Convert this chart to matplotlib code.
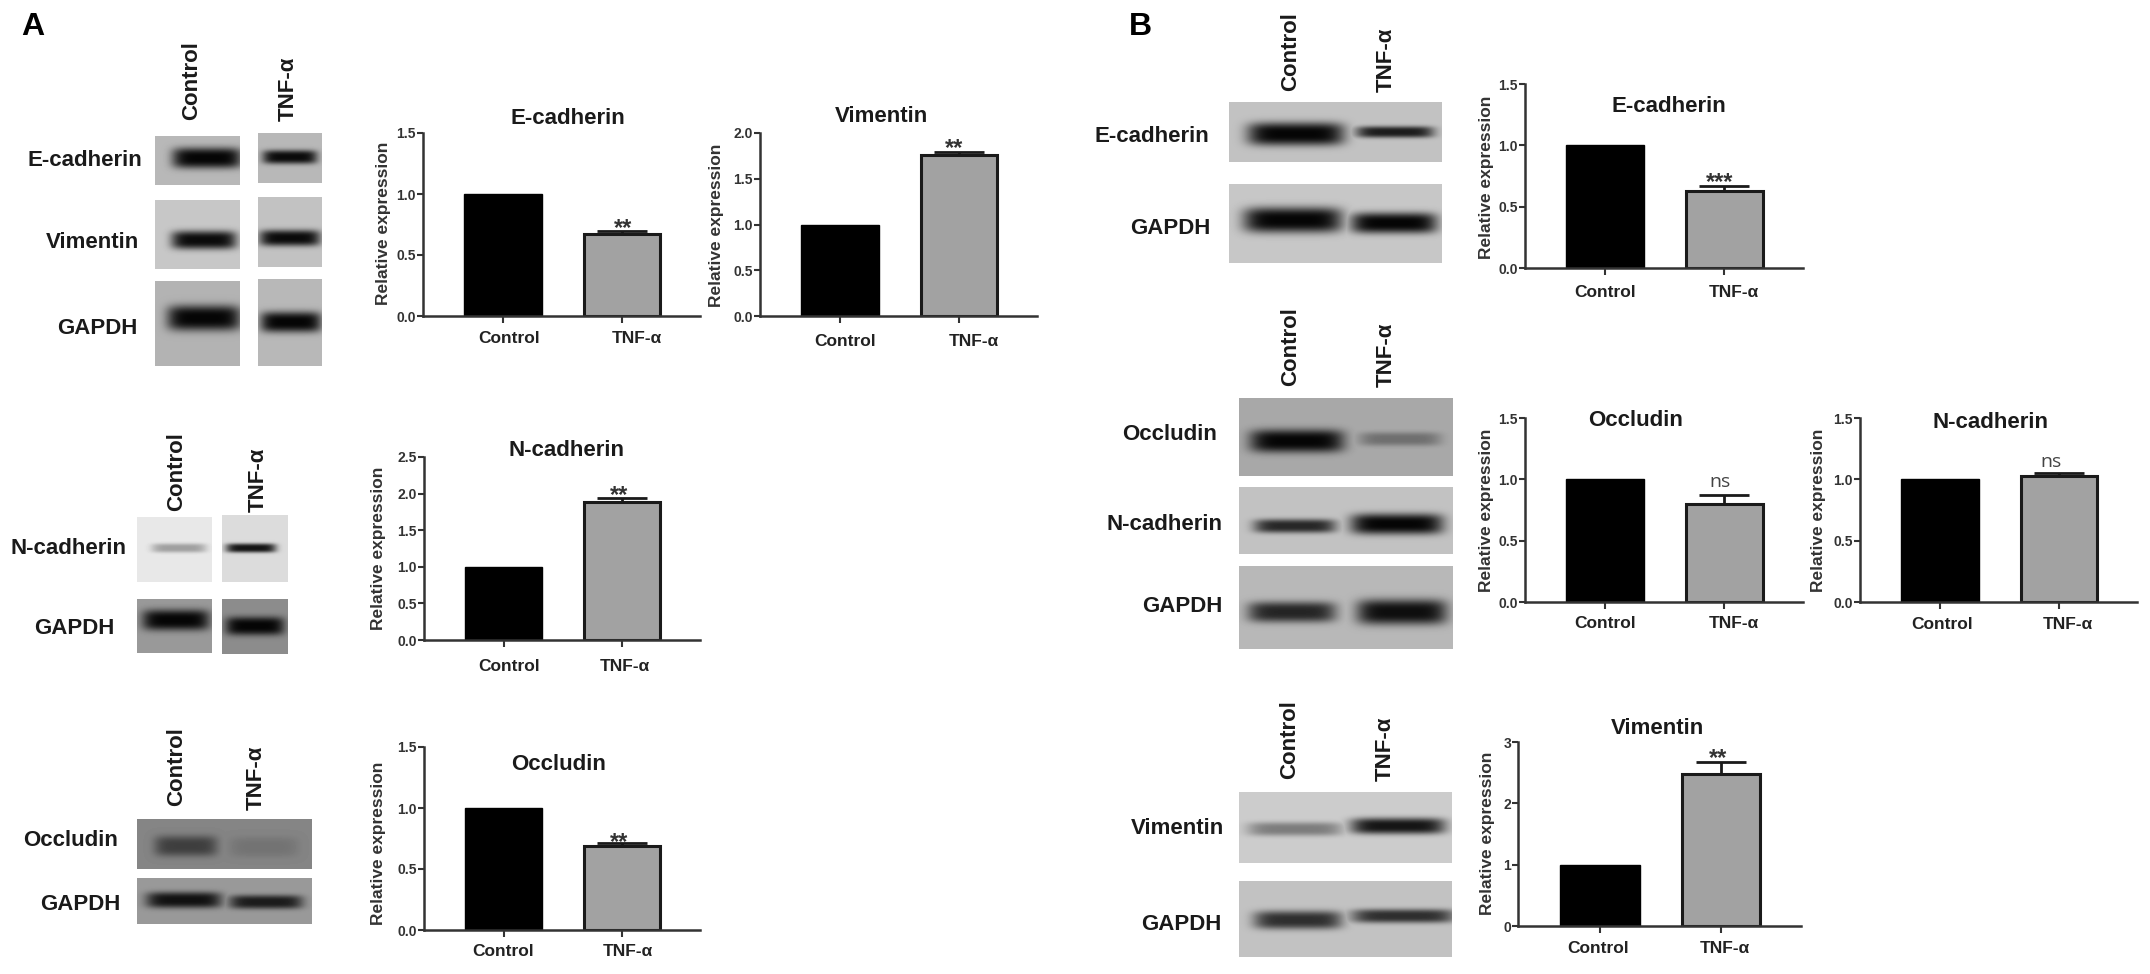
import numpy as np
from matplotlib import pyplot as plt
from matplotlib.transforms import ScaledTranslation

plt.rcParams['font.family'] = ['Liberation Sans', 'DejaVu Sans']
plt.rcParams['font.weight'] = 'bold'
plt.rcParams['axes.labelweight'] = 'bold'

W, H = 2150, 974
DPI = 100

# Bar chart values, panel A then panel B.
titles = ['E-cadherin', 'Vimentin', 'N-cadherin', 'Occludin',
          'E-cadherin', 'Occludin', 'N-cadherin', 'Vimentin']
groups = ['Control', 'TNF-α']
control_values = [1.0, 1.0, 1.0, 1.0, 1.0, 1.0, 1.0, 1.0]
tnf_values = [0.67, 1.76, 1.89, 0.69, 0.63, 0.80, 1.03, 2.48]
tnf_errors = [0.03, 0.03, 0.05, 0.02, 0.04, 0.07, 0.02, 0.20]
y_max = [1.5, 2.0, 2.5, 1.5, 1.5, 1.5, 1.5, 3.0]
y_ticks = [[0.0, 0.5, 1.0, 1.5], [0.0, 0.5, 1.0, 1.5, 2.0],
           [0.0, 0.5, 1.0, 1.5, 2.0, 2.5], [0.0, 0.5, 1.0, 1.5],
           [0.0, 0.5, 1.0, 1.5], [0.0, 0.5, 1.0, 1.5],
           [0.0, 0.5, 1.0, 1.5], [0, 1, 2, 3]]
y_fmt = ['%.1f'] * 7 + ['%d']
marks = ['**', '**', '**', '**', '***', 'ns', 'ns', '**']

# Layout of each chart, in pixels of the page.
boxes = [(423, 700, 133, 316), (760, 1037, 133, 316), (424, 700, 457, 640),
         (424, 700, 747, 930), (1525, 1803, 84, 268), (1525, 1803, 418, 602),
         (1860, 2137, 418, 602), (1518, 1801, 742, 926)]
title_pos = [(568, 118), (881, 116), (567, 451), (559, 765),
             (1669, 107), (1636, 421), (1991, 422), (1657, 728)]
mark_pos = [(623, 225), (954, 145), (619, 492), (619, 839),
            (1720, 179), (1720, 482), (2051, 462), (1718, 755)]
ylabel_pos = [(391, 223), (724, 225), (386, 548), (386, 843),
              (1494, 177), (1494, 510), (1826, 510), (1495, 833)]
tick_label_y = [338, 341, 666, 951, 292, 623, 624, 948]
tick_label_dx = [(6, 15), (5, 15), (5, 3), (-1, 6),
                 (0, 9), (0, 9), (2, 9), (-2, 4)]

# Western blot strips: left, right, top, bottom, background grey.
blots = [
    (155, 240, 136, 185, 0.72), (258, 322, 133, 183, 0.72),
    (155, 240, 200, 269, 0.78), (258, 322, 197, 267, 0.76),
    (155, 240, 281, 366, 0.70), (258, 322, 279, 366, 0.72),
    (137, 212, 517, 582, 0.91), (222, 288, 515, 582, 0.86),
    (137, 212, 599, 653, 0.60), (222, 288, 599, 654, 0.55),
    (137, 312, 819, 869, 0.52), (137, 312, 878, 924, 0.60),
    (1229, 1442, 102, 162, 0.76), (1229, 1442, 184, 263, 0.78),
    (1239, 1453, 398, 476, 0.66), (1239, 1453, 487, 554, 0.76),
    (1239, 1453, 566, 649, 0.72), (1239, 1452, 792, 863, 0.80),
    (1239, 1452, 881, 957, 0.76),
]
# Bands on each strip: centre x, centre y, half width, half height, strength.
bands = [
    [(207, 158, 33, 9, 1.0)], [(290, 157, 26, 6, 0.97)],
    [(204, 240, 31, 8, 0.97)], [(290, 238, 29, 7, 0.97)],
    [(204, 318, 35, 11, 1.0)], [(291, 322, 29, 9, 1.0)],
    [(179, 548, 26, 4, 0.32)], [(251, 548, 24, 4, 0.93)],
    [(176, 620, 32, 9, 1.0)], [(255, 626, 28, 8, 1.0)],
    [(186, 846, 30, 9, 0.55), (264, 847, 33, 9, 0.14)],
    [(184, 900, 36, 7, 0.92), (266, 902, 35, 6, 0.85)],
    [(1296, 134, 46, 10, 1.0), (1395, 132, 37, 5, 0.88)],
    [(1293, 220, 47, 11, 1.0), (1394, 223, 41, 9, 1.0)],
    [(1297, 441, 45, 10, 1.0), (1400, 439, 39, 6, 0.35)],
    [(1295, 526, 39, 6, 0.82), (1397, 524, 44, 9, 1.0)],
    [(1292, 612, 42, 9, 0.82), (1402, 612, 43, 11, 0.95)],
    [(1295, 829, 45, 6, 0.40), (1398, 826, 45, 7, 0.92)],
    [(1298, 920, 42, 8, 0.78), (1403, 916, 49, 6, 0.78)],
]

# Labels next to the blots: text, centre x, centre y.
row_labels = [
    ('E-cadherin', 85, 161), ('Vimentin', 92, 243), ('GAPDH', 97, 329),
    ('N-cadherin', 69, 548), ('GAPDH', 74, 628),
    ('Occludin', 71, 841), ('GAPDH', 80, 904),
    ('E-cadherin', 1152, 137), ('GAPDH', 1170, 229),
    ('Occludin', 1170, 435), ('N-cadherin', 1165, 525), ('GAPDH', 1182, 607),
    ('Vimentin', 1177, 828), ('GAPDH', 1181, 925),
]
lane_labels = [
    ('Control', 192, 81), ('TNF-α', 288, 89),
    ('Control', 177, 472), ('TNF-α', 258, 480),
    ('Control', 177, 767), ('TNF-α', 256, 778),
    ('Control', 1291, 52), ('TNF-α', 1386, 60),
    ('Control', 1291, 347), ('TNF-α', 1386, 355),
    ('Control', 1290, 740), ('TNF-α', 1385, 749),
]
panel_labels = [('A', 33, 27), ('B', 1140, 27)]

fig = plt.figure(figsize=(W / DPI, H / DPI), dpi=DPI)

# Whole page axes for the blots and their labels.
page = fig.add_axes([0, 0, 1, 1])
for (x0, x1, y0, y1, bg), strip_bands in zip(blots, bands):
    xx, yy = np.meshgrid(np.arange(x0, x1) + 0.5, np.arange(y0, y1) + 0.5)
    cover = np.zeros_like(xx)
    for cx, cy, hw, hh, strength in strip_bands:
        shape = np.exp(-np.abs((xx - cx) / (hw * 1.05)) ** 6
                       - np.abs((yy - cy) / (hh * 1.15)) ** 3)
        cover = np.maximum(cover, strength * shape)
    img = bg * (1 - cover) + 0.02 * cover
    page.imshow(img, extent=(x0, x1, y1, y0), cmap='gray', vmin=0, vmax=1,
                aspect='auto', interpolation='bilinear')
page.set_xlim(0, W)
page.set_ylim(H, 0)
page.axis('off')

for text, x, y in row_labels:
    page.text(x, y, text, fontsize=16, ha='center', va='center', color='#1a1a1a')
for text, x, y in lane_labels:
    page.text(x, y, text, fontsize=16, rotation=90, ha='center', va='center',
              color='#1a1a1a')
for text, x, y in panel_labels:
    page.text(x, y, text, fontsize=23, ha='center', va='center', color='black')

# Bar charts.
for i, box in enumerate(boxes):
    x0, x1, y0, y1 = box
    ax = fig.add_axes([x0 / W, 1 - y1 / H, (x1 - x0) / W, (y1 - y0) / H])
    ax.patch.set_alpha(0)
    ax.bar(0, control_values[i], width=0.655, color='black', edgecolor='black')
    ax.bar(1, tnf_values[i], width=0.64, color='#a2a2a2', edgecolor='#1a1a1a',
           linewidth=2.2, yerr=[[0], [tnf_errors[i]]], ecolor='#1a1a1a',
           error_kw={'elinewidth': 2, 'capsize': 18, 'capthick': 2})
    ax.set_xlim(-0.675, 1.66)
    ax.set_ylim(0, y_max[i])
    ax.spines['top'].set_visible(False)
    ax.spines['right'].set_visible(False)
    ax.spines['left'].set_linewidth(1.8)
    ax.spines['bottom'].set_linewidth(1.8)
    ax.spines['left'].set_color('#333333')
    ax.spines['bottom'].set_color('#333333')

    ax.set_yticks(y_ticks[i], [y_fmt[i] % v for v in y_ticks[i]])
    ax.tick_params(axis='y', length=4, width=1.5, pad=1, labelsize=10,
                   color='#333333', labelcolor='#333333')
    ax.set_xticks([0, 1], groups)
    ax.tick_params(axis='x', length=5, width=1.5, labelsize=12.5,
                   pad=(tick_label_y[i] - y1 - 14) * 0.72,
                   color='#333333', labelcolor='#222222')
    for label, dx in zip(ax.get_xticklabels(), tick_label_dx[i]):
        label.set_transform(label.get_transform() +
                            ScaledTranslation(dx / DPI, 0, fig.dpi_scale_trans))

    lx, ly = ylabel_pos[i]
    ax.set_ylabel('Relative expression', fontsize=12.5, color='#333333')
    ax.yaxis.set_label_coords((lx - x0) / (x1 - x0), (y1 - ly) / (y1 - y0))

    tx, ty = title_pos[i]
    page.text(tx, ty, titles[i], fontsize=16, ha='center', va='center',
              color='#1a1a1a')
    mx, my = mark_pos[i]
    if marks[i] == 'ns':
        page.text(mx, my, 'ns', fontsize=14, fontweight='normal', ha='center',
                  va='center', color='#444444', family=['Open Sans', 'DejaVu Sans'])
    else:
        page.text(mx, my + 4, marks[i], fontsize=17, ha='center', va='center',
                  color='#333333')

fig.savefig('out.png', dpi=DPI)
